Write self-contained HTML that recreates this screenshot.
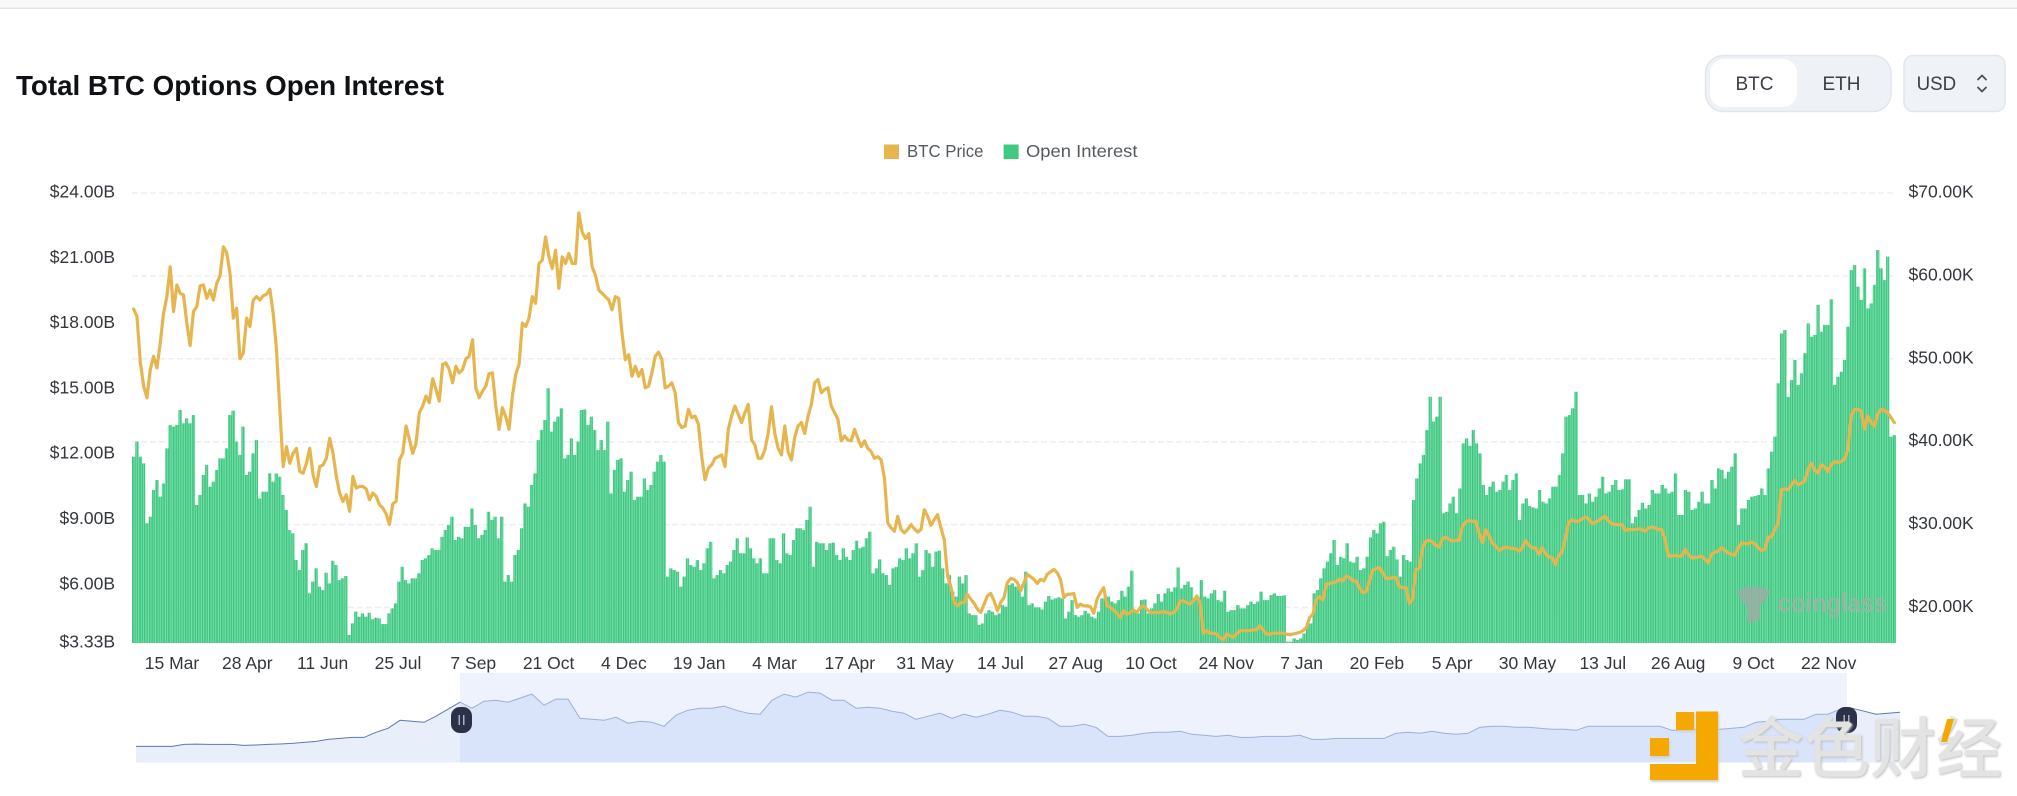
<!DOCTYPE html>
<html lang="en">
<head>
<meta charset="utf-8">
<title>Total BTC Options Open Interest</title>
<style>
html,body{margin:0;padding:0;background:#fff;width:2017px;height:796px;overflow:hidden}
svg{display:block}
text{font-family:"Liberation Sans","Noto Sans CJK SC",sans-serif}
</style>
</head>
<body>
<svg id="chart" xmlns="http://www.w3.org/2000/svg" width="2017" height="796" viewBox="0 0 2017 796">
  <defs>
    <pattern id="stripe" patternUnits="userSpaceOnUse" x="132" y="0" width="1.7114" height="10">
      <rect x="0" y="0" width="1.7114" height="10" fill="#69e3a2"></rect>
      <rect x="0" y="0" width="0.58" height="10" fill="#30aa6e"></rect>
    </pattern>
    <clipPath id="navSelected"><rect x="460" y="660" width="1387" height="110"></rect></clipPath>
    <clipPath id="navLeft"><rect x="130" y="660" width="330" height="110"></rect></clipPath>
    <clipPath id="navRight"><rect x="1847" y="660" width="60" height="110"></rect></clipPath>
  </defs>

  <rect x="0" y="0" width="2017" height="8" fill="#f8f8f8"></rect>
  <rect x="0" y="7.5" width="2017" height="1.5" fill="#e3e3e3"></rect>

  <text x="16" y="95" font-size="28" font-weight="700" fill="#0f1115" textLength="428" lengthAdjust="spacingAndGlyphs">Total BTC Options Open Interest</text>

  <g>
    <rect x="1705.5" y="55.5" width="185.5" height="56" rx="18" fill="#eef1f5" stroke="#e2e5ea" stroke-width="1.5"></rect>
    <rect x="1710" y="59" width="87" height="48" rx="14" fill="#ffffff"></rect>
    <text x="1754.5" y="90" font-size="19" text-anchor="middle" fill="#3a3f47">BTC</text>
    <text x="1841.5" y="90" font-size="19" text-anchor="middle" fill="#3a3f47">ETH</text>
  </g>
  <g>
    <rect x="1904" y="55.5" width="101" height="56" rx="9" fill="#eff2f6" stroke="#e2e5ea" stroke-width="1.5"></rect>
    <text x="1916.6" y="90" font-size="19" fill="#3a3f47" textLength="39.5" lengthAdjust="spacingAndGlyphs">USD</text>
    <path d="M1978 79.5 L1982 75.5 L1986 79.5 M1978 87.5 L1982 91.5 L1986 87.5" fill="none" stroke="#4a4f57" stroke-width="1.8" stroke-linecap="round" stroke-linejoin="round"></path>
  </g>

  <g>
    <rect x="884" y="144.5" width="15" height="14.5" fill="#e6b54e"></rect>
    <text x="907" y="157" font-size="17.5" fill="#555a60" textLength="76.5" lengthAdjust="spacingAndGlyphs">BTC Price</text>
    <rect x="1003.6" y="144.5" width="15" height="14.5" fill="#3ecb80"></rect>
    <text x="1026" y="157" font-size="17.5" fill="#555a60" textLength="111.5" lengthAdjust="spacingAndGlyphs">Open Interest</text>
  </g>

  <g id="grid"></g>
  <g id="bars"></g>

  <g opacity="0.8">
    <path d="M1737 592 L1745 587 L1762 587 L1770 591 L1766 600 L1760 606 L1760 620 L1748 623 L1747 606 L1741 600 Z" fill="#9fada6"></path>
    <text x="1778" y="612" font-size="27" font-weight="700" fill="#9fb3a8" textLength="109" lengthAdjust="spacingAndGlyphs">coinglass</text>
  </g>

  <path id="priceLine" fill="none" stroke="#e6b54e" stroke-width="3.2" stroke-linejoin="round" stroke-linecap="round"></path>

  <g id="leftAxis"></g>
  <g id="rightAxis"></g>
  <g id="xAxis"></g>

  <g>
    <rect x="460" y="673" width="1387" height="89.5" fill="#eef2fd"></rect>
    <path id="navAreaLeft" clip-path="url(#navLeft)" fill="#e9eefb"></path>
    <path id="navAreaMid" clip-path="url(#navSelected)" fill="#d9e3fa"></path>
    <path id="navAreaRight" clip-path="url(#navRight)" fill="#e9eefb"></path>
    <path id="navLineLeft" clip-path="url(#navLeft)" fill="none" stroke="#5d78ad" stroke-width="1"></path>
    <path id="navLineMid" clip-path="url(#navSelected)" fill="none" stroke="#9bb0d8" stroke-width="1"></path>
    <path id="navLineRight" clip-path="url(#navRight)" fill="none" stroke="#5d78ad" stroke-width="1"></path>
    <g>
      <rect x="451" y="707" width="21" height="26" rx="9" fill="#2b3147"></rect>
      <rect x="458.5" y="715" width="1.5" height="10" fill="#aab0c0"></rect>
      <rect x="463" y="715" width="1.5" height="10" fill="#aab0c0"></rect>
    </g>
    <g>
      <rect x="1836" y="707" width="21" height="26" rx="9" fill="#2b3147"></rect>
      <rect x="1843.5" y="715" width="1.5" height="10" fill="#aab0c0"></rect>
      <rect x="1848" y="715" width="1.5" height="10" fill="#aab0c0"></rect>
    </g>
  </g>

  <g>
    <g style="filter:drop-shadow(1px 2px 1px #cfcfcf)">
      <rect x="1650" y="738" width="19" height="18" fill="#f5a800"></rect>
      <rect x="1676" y="712" width="18" height="18" fill="#f5a800"></rect>
      <path d="M1696 711.500 L1718 711.500 L1718 780 L1650 780 L1650 764 L1696 764 Z" fill="#f5a800"></path>
    </g>
    <text x="1738" y="772" font-size="66" font-weight="500" fill="#e3e3e3" style="font-family:'Noto Sans CJK SC',sans-serif;filter:drop-shadow(1px 1px 1px #bdbdbd)">金色财经</text>
    <path d="M1947 719 L1954 719 L1947 742 L1941 742 Z" fill="#f5a800"></path>
  </g>
</svg>

<script>
// Open interest in $B, left to right
const openInterest = [
11.89,12.58,11.89,11.58,8.83,9.13,10.36,10.82,10.05,10.66,12.27,13.34,13.27,13.34,14.03,13.42,13.65,13.42,13.80,9.67,10.13,11.05,11.51,10.51,10.74,11.28,11.81,11.81,12.27,13.80,14.0,12.58,11.97,13.27,11.05,11.2,12.04,12.65,9.97,10.28,10.28,11.12,10.74,11.12,10.97,10.13,9.44,8.52,8.37,7.14,6.68,7.6,7.91,5.61,6.15,6.76,5.92,5.76,6.56,6.07,7.11,6.91,6.22,6.3,6.41,3.7,4.23,4.77,4.54,4.69,4.54,4.72,4.42,4.49,4.46,4.2,4.2,4.69,4.92,5.15,6.15,6.83,6.22,6.07,6.3,6.3,6.53,7.14,
7.22,7.37,7.68,7.6,7.6,8.21,8.52,8.75,9.13,8.06,8.21,8.14,8.67,8.67,9.51,8.75,8.14,8.29,8.52,9.36,8.98,9.13,8.14,9.13,6.15,6.45,6.15,7.37,7.6,8.6,9.74,9.59,10.59,11.12,12.65,13.11,13.57,15.03,13.04,13.5,13.73,14.11,11.81,11.97,12.73,11.97,12.58,14.03,14.06,13.34,13.73,13.11,12.19,12.65,12.19,13.5,10.2,11.28,11.74,11.81,10.28,10.82,11.2,9.9,10.05,10.05,10.89,10.36,10.59,11.2,11.66,11.97,11.66,6.38,6.76,6.68,6.61,5.92,6.38,7.22,6.91,6.83,7.14,6.68,6.99,7.68,7.98,6.3,6.45,
6.68,6.53,6.91,7.07,7.6,8.14,7.45,7.45,8.18,7.68,7.22,6.99,7.22,6.53,6.53,8.14,8.14,7.14,6.99,8.37,7.45,7.37,8.06,8.6,8.6,8.52,8.98,9.59,6.83,7.98,7.91,7.91,7.6,7.91,7.94,7.37,7.14,7.68,7.29,7.14,7.6,8.03,7.68,7.75,8.14,8.44,6.53,6.76,7.17,6.53,6.45,6.0,6.76,6.83,7.22,7.14,7.68,7.22,7.45,7.91,6.38,6.68,7.6,7.45,6.83,7.53,7.57,6.76,6.07,6.45,5.69,5.46,6.38,6.07,6.45,4.69,4.61,4.61,4.16,4.23,4.69,4.84,4.77,4.61,4.69,5.07,5.0,6.0,6.07,
5.92,5.84,5.46,6.61,5.07,5.15,4.97,4.97,4.87,5.23,5.49,5.33,5.38,5.43,5.38,4.46,4.77,5.3,4.61,4.54,4.61,4.81,4.69,4.54,4.46,4.77,5.38,5.53,5.46,5.23,5.15,5.3,5.73,5.46,5.92,6.65,4.77,4.69,5.3,5.33,4.69,4.92,5.15,5.58,5.23,5.61,5.84,5.69,5.89,6.8,5.84,6.0,6.15,5.89,5.3,5.46,6.22,5.46,5.38,5.61,5.76,5.3,5.23,5.73,4.77,4.84,4.84,5.07,4.92,4.92,5.07,5.23,5.12,5.23,5.69,5.3,5.3,5.53,5.61,5.49,5.49,5.52,3.39,3.39,3.54,3.47,3.54,3.77,4.23,
4.23,5.61,5.76,6.3,6.76,7.07,7.45,8.06,6.91,7.29,7.22,7.91,7.07,7.02,7.29,6.68,6.76,7.29,8.18,8.52,8.37,8.83,8.9,7.32,7.6,7.75,7.17,6.38,7.37,7.14,7.07,9.9,10.89,11.58,11.97,13.11,14.64,13.5,13.73,14.64,9.29,9.36,9.74,10.05,9.29,10.43,12.5,12.73,12.39,13.11,12.5,12.04,10.59,10.13,10.51,10.74,10.28,10.36,10.74,11.05,10.36,10.82,11.12,8.98,9.74,9.97,9.62,9.56,9.51,10.36,9.82,9.74,9.97,10.51,10.51,11.05,12.04,13.73,13.8,14.11,14.87,10.13,10.13,9.74,10.2,9.82,10.05,10.43,10.97,
10.2,10.28,10.59,10.82,10.36,10.39,10.85,10.85,8.83,9.13,9.44,9.77,9.51,9.67,10.36,10.2,10.2,10.59,10.43,10.2,10.28,11.12,9.21,9.21,10.36,10.28,9.44,9.51,9.82,10.28,9.74,9.74,10.82,10.43,11.35,11.28,10.89,11.2,11.43,12.04,8.75,9.51,9.51,9.9,10.05,10.08,10.13,10.43,10.13,11.35,12.12,12.81,15.26,17.55,17.71,14.64,15.41,16.33,15.18,15.72,16.64,18.01,17.4,17.48,18.86,17.63,17.94,17.94,19.12,15.18,15.56,15.79,16.33,17.86,20.46,20.69,19.7,19.09,20.54,18.7,18.93,19.78,21.38,20.54,20.0,21.08,12.81,12.88
];

// BTC price in $K, left to right
const btcPrice = [
56.0,55.1,49.6,46.7,45.3,48.7,50.3,48.9,51.9,55.5,57.5,61.1,55.7,58.9,57.9,57.7,54.3,51.6,55.7,56.3,58.8,58.9,57.3,58.3,57.1,59.1,60.0,63.5,62.8,60.3,54.9,56.1,50.0,50.7,54.9,53.9,57.1,57.5,57.1,57.6,57.8,58.4,55.5,51.1,43.9,37.0,39.4,37.4,38.6,39.2,36.4,36.2,37.4,39.2,36.0,34.6,37.0,37.2,38.0,40.4,38.6,35.8,33.8,32.8,33.6,31.6,35.8,34.4,34.6,34.6,34.3,33.0,33.8,33.4,32.4,32.0,31.3,30.0,32.5,32.8,37.8,38.6,41.9,40.3,38.6,39.8,43.5,44.3,
45.5,44.7,47.6,46.3,44.9,49.3,49.5,48.7,47.1,49.1,48.3,48.7,50.0,50.3,52.3,46.5,45.3,46.1,46.7,48.2,48.3,44.3,41.5,44.1,43.0,41.5,45.5,48.1,49.3,54.3,53.9,54.9,57.5,56.7,61.5,61.9,64.7,62.3,60.9,63.1,58.5,62.3,61.5,62.7,61.5,61.5,67.6,65.3,64.5,65.1,61.1,60.1,58.3,57.9,57.5,57.1,55.9,57.5,57.3,53.1,49.9,50.5,47.9,49.1,47.9,48.7,46.5,46.7,48.3,50.3,50.8,49.9,46.5,46.7,47.1,45.9,42.3,41.7,41.9,43.9,42.9,43.1,42.1,38.2,35.4,36.8,37.2,38.0,38.2,
38.4,37.0,41.5,43.1,44.3,43.3,42.3,43.5,44.5,40.2,39.6,38.0,38.0,39.0,41.0,44.2,41.0,39.2,38.4,41.9,38.8,37.8,40.6,41.9,42.3,41.0,43.1,44.5,47.1,47.5,45.9,46.3,46.5,44.3,43.5,42.7,40.1,40.7,40.2,40.1,41.5,40.4,39.4,40.1,39.2,38.8,38.0,38.2,37.8,35.6,30.2,29.6,29.2,31.0,29.4,29.0,29.4,30.0,29.5,29.1,29.4,31.8,31.0,29.9,30.6,31.2,29.6,28.2,23.8,22.5,20.6,20.2,20.6,20.6,21.6,21.0,20.5,19.8,19.4,20.4,21.4,21.7,20.8,19.6,20.6,21.2,23.0,23.5,23.4,
23.0,22.0,23.0,24.0,23.7,23.4,22.9,23.4,23.2,24.0,24.3,24.6,24.2,23.4,21.2,21.6,21.6,21.7,20.0,20.4,20.2,20.2,20.1,19.3,21.0,21.8,22.4,20.2,20.0,19.7,19.3,18.8,19.6,19.2,19.4,19.7,19.4,20.0,20.2,19.8,19.4,19.4,19.4,19.4,19.5,19.4,19.2,19.4,19.8,20.8,20.8,20.6,20.4,20.8,21.4,20.6,16.9,17.2,16.9,16.9,16.8,16.4,16.1,16.8,16.6,16.4,16.8,17.2,17.2,17.2,17.2,17.3,17.3,17.8,17.3,16.8,16.8,16.9,16.9,16.9,16.9,16.8,16.7,16.8,16.9,17.0,17.2,17.6,18.8,
19.2,21.0,21.3,20.9,22.8,22.9,23.0,23.1,23.4,23.2,23.8,23.6,23.2,23.2,22.4,21.8,21.9,23.2,24.5,24.7,24.8,24.2,23.5,23.5,23.6,23.6,22.5,22.4,22.4,20.5,21.0,24.6,24.7,27.3,28.0,28.1,27.9,27.5,27.3,28.3,28.5,28.2,28.0,28.1,28.1,29.8,30.3,30.5,30.4,30.4,29.0,27.8,29.4,28.7,27.8,27.4,26.9,27.1,27.3,27.2,27.1,27.1,26.8,27.2,28.1,27.5,27.2,27.2,26.4,27.2,26.5,26.1,26.0,25.2,26.3,26.7,28.4,30.3,30.6,30.4,30.4,30.7,30.9,30.7,30.1,30.3,30.5,30.8,31.0,
30.4,30.1,30.0,30.0,30.0,29.3,29.4,29.4,29.4,29.5,29.4,29.2,29.6,29.7,29.6,29.4,29.4,28.2,26.2,26.2,26.3,26.2,26.2,27.0,26.4,26.0,26.0,26.1,26.2,25.8,25.4,26.4,26.7,26.8,27.2,26.9,26.6,26.4,26.3,27.2,27.8,27.7,27.7,27.9,27.7,27.2,26.9,27.0,28.5,28.5,29.4,30.1,34.2,34.3,34.2,34.8,35.3,34.8,35.0,35.2,36.6,37.4,36.6,36.2,37.2,37.0,36.4,37.2,37.6,37.5,37.6,37.9,39.0,43.1,43.9,43.9,43.7,41.5,43.1,42.3,41.9,43.3,43.9,43.8,43.5,42.9,42.3
];

// Axis tick values and category labels
const leftTicks = [24, 21, 18, 15, 12, 9, 6, 3.33];
const rightTicks = [70, 60, 50, 40, 30, 20];
const tickLabels = ["15 Mar","28 Apr","11 Jun","25 Jul","7 Sep","21 Oct","4 Dec","19 Jan","4 Mar","17 Apr","31 May","14 Jul","27 Aug","10 Oct","24 Nov","7 Jan","20 Feb","5 Apr","30 May","13 Jul","26 Aug","9 Oct","22 Nov"];

// Full-history overview series shown in the range navigator
const navValues = [
1.6,1.6,1.6,1.6,1.8,1.83,1.8,1.8,1.8,1.7,1.74,1.8,1.84,1.9,2.0,2.1,2.3,2.4,2.5,2.5,3.0,3.4,4.2,4.1,4.0,4.6,5.3,6.0,5.4,6.1,6.2,6.0,6.4,6.8,5.7,6.3,6.3,4.4,4.3,4.2,4.5,3.9,4.1,4.0,3.6,4.7,5.2,5.4,5.4,5.6,5.2,4.9,4.8,6.2,6.8,6.5,7.0,6.9,6.2,6.2,5.4,5.5,5.4,5.1,4.9,4.3,4.6,4.9,4.4,4.8,4.5,4.8,5.2,5.0,4.6,4.6,4.4,3.6,3.6,3.8,3.5,2.6,2.6,2.7,2.9,3.0,3.0,3.1,2.8,2.7,2.6,2.7,2.5,2.5,2.6,2.6,2.6,2.7,2.3,2.3,2.4,2.4,2.4,2.4,2.4,2.9,3.0,2.9,3.1,2.9,2.8,2.9,3.5,3.6,3.6,3.5,3.5,3.4,3.3,3.3,3.2,3.6,3.6,3.6,3.6,3.6,3.6,3.6,3.2,3.2,3.3,3.3,3.3,3.4,3.5,4.0,4.1,4.3,4.3,4.3,4.8,4.8,5.3,5.4,5.1,4.8,4.9,5.0
];

const SVG_NS = 'http://www.w3.org/2000/svg';
const plotLeft = 132, plotRight = 1896, plotTop = 193, plotBottom = 643;
const totalDays = (plotRight - plotLeft) / 1.7114;
const tickEvery = 44, firstTickDay = 23.4;

function yLeft(v) { return plotBottom - (v - 3.33) / (24 - 3.33) * (plotBottom - plotTop); }
function yRight(v) { return plotTop + (70 - v) * 8.29; }
function xDay(d) { return plotLeft + d / totalDays * (plotRight - plotLeft); }
function xBand(i, n) { return plotLeft + i / n * (plotRight - plotLeft); }

const grid = document.getElementById('grid');
rightTicks.forEach(function (v) {
  const ln = document.createElementNS(SVG_NS, 'line');
  
  
  ln.setAttribute('x1', plotLeft);
  ln.setAttribute('x2', plotRight);
  ln.setAttribute('y1', yRight(v));
  ln.setAttribute('y2', yRight(v));
  ln.setAttribute('stroke', '#eceef0');
  ln.setAttribute('stroke-width', '1.5');
  ln.setAttribute('stroke-dasharray', '6 3');
  grid.appendChild(ln);
});

const barsGroup = document.getElementById('bars');
openInterest.forEach(function (v, i) {
  const r = document.createElementNS(SVG_NS, 'rect');
  const x0 = xBand(i, openInterest.length);
  const x1 = xBand(i + 1, openInterest.length);
  
  
  r.setAttribute('x', x0.toFixed(2));
  r.setAttribute('width', (x1 - x0 + 0.05).toFixed(2));
  r.setAttribute('y', yLeft(v).toFixed(2));
  r.setAttribute('height', (plotBottom - yLeft(v)).toFixed(2));
  r.setAttribute('fill', 'url(#stripe)');
  barsGroup.appendChild(r);
});

const pricePts = btcPrice.map(function (p, i) {
  return (i === 0 ? 'M' : 'L') + xBand(i + 0.5, btcPrice.length).toFixed(2) + ' ' + yRight(p).toFixed(2);
});
document.getElementById('priceLine').setAttribute('d', pricePts.join(' '));

function addLabel(parent, name, x, y, anchor, content) {
  const t = document.createElementNS(SVG_NS, 'text');
  
  
  t.setAttribute('x', x);
  t.setAttribute('y', y);
  t.setAttribute('text-anchor', anchor);
  t.setAttribute('font-size', '17.5');
  t.setAttribute('fill', '#33373d');
  t.textContent = content;
  parent.appendChild(t);
}

const leftAxis = document.getElementById('leftAxis');
leftTicks.forEach(function (v) {
  addLabel(leftAxis, 'left-axis-label', 115, yLeft(v) + 4.5, 'end', '$' + v.toFixed(2) + 'B');
});
const rightAxis = document.getElementById('rightAxis');
rightTicks.forEach(function (v) {
  addLabel(rightAxis, 'right-axis-label', 1908.5, yRight(v) + 4.5, 'start', '$' + v.toFixed(2) + 'K');
});
const xAxis = document.getElementById('xAxis');
tickLabels.forEach(function (lab, k) {
  addLabel(xAxis, 'x-axis-label', xDay(firstTickDay + k * tickEvery).toFixed(1), 669, 'middle', lab);
});

// Navigator
const navLeft = 136, navRight = 1900, navBottom = 762.5, navTop = 673, navMax = 8.9;
function navX(i) { return navLeft + i / (navValues.length - 1) * (navRight - navLeft); }
function navY(v) { return navBottom - v / navMax * (navBottom - navTop); }
const navLine = navValues.map(function (v, i) {
  return (i === 0 ? 'M' : 'L') + navX(i).toFixed(1) + ' ' + navY(v).toFixed(1);
}).join(' ');
const navArea = navLine + ' L' + navRight + ' ' + navBottom + ' L' + navLeft + ' ' + navBottom + ' Z';
['navLineLeft', 'navLineMid', 'navLineRight'].forEach(function (id) {
  document.getElementById(id).setAttribute('d', navLine);
});
['navAreaLeft', 'navAreaMid', 'navAreaRight'].forEach(function (id) {
  document.getElementById(id).setAttribute('d', navArea);
});
</script>
</body>
</html>
